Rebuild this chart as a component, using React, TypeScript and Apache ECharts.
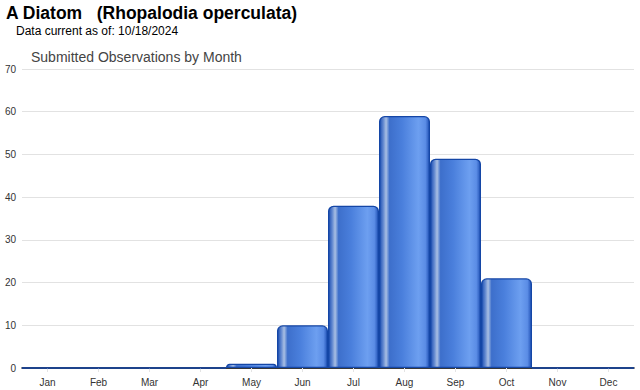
import React, { useEffect, useRef } from "react";
import * as echarts from "echarts";

const months = ["Jan", "Feb", "Mar", "Apr", "May", "Jun", "Jul", "Aug", "Sep", "Oct", "Nov", "Dec"];
const observations = [0, 0, 0, 0, 1, 10, 38, 59, 49, 21, 0, 0];

const titleText = "A Diatom   (Rhopalodia operculata)";
const subtitleText = "Data current as of: 10/18/2024";
const chartTitle = "Submitted Observations by Month";

export default function App() {
  const ref = useRef<HTMLDivElement>(null);
  useEffect(() => {
    if (!ref.current) return;
    const chart = echarts.init(ref.current, null, { renderer: "svg" });
    const barGradient = new echarts.graphic.LinearGradient(0, 0, 1, 0, [
      { offset: 0, color: "#1d4fb2" },
      { offset: 0.07, color: "#5f86cf" },
      { offset: 0.13, color: "#a9bfe3" },
      { offset: 0.2, color: "#3d6fcb" },
      { offset: 0.45, color: "#4a7fdc" },
      { offset: 0.78, color: "#6d9ff0" },
      { offset: 0.92, color: "#5b8de6" },
      { offset: 1, color: "#2354b8" },
    ]);
    chart.setOption({
      animation: false,
      backgroundColor: "#ffffff",
      textStyle: { fontFamily: "Liberation Sans, Arial, sans-serif" },
      graphic: [
        {
          type: "text",
          left: 6,
          top: 4,
          style: {
            text: titleText,
            font: "bold 17.5px 'Liberation Sans', Arial, sans-serif",
            fill: "#000",
          },
        },
        {
          type: "text",
          left: 16,
          top: 25,
          style: {
            text: subtitleText,
            font: "12px 'Liberation Sans', Arial, sans-serif",
            fill: "#000",
          },
        },
        {
          type: "text",
          left: 31,
          top: 50,
          style: {
            text: chartTitle,
            font: "14px 'Liberation Sans', Arial, sans-serif",
            fill: "#444",
          },
        },
      ],
      grid: { left: 22, right: 6, top: 69, bottom: 22, containLabel: false },
      xAxis: {
        type: "category",
        data: months,
        axisLine: { show: true, lineStyle: { color: "#000", width: 1.5 } },
        axisTick: { show: true, alignWithLabel: true, length: 4, lineStyle: { color: "#e4e4e4" } },
        axisLabel: { color: "#333", fontSize: 10, margin: 9 },
      },
      yAxis: {
        type: "value",
        min: 0,
        max: 70,
        interval: 10,
        axisLine: { show: false },
        axisTick: { show: false },
        axisLabel: { color: "#333", fontSize: 10, margin: 6 },
        splitLine: { lineStyle: { color: "#e2e2e2", width: 1 } },
      },
      series: [
        {
          type: "bar",
          data: observations,
          barCategoryGap: "0%",
          itemStyle: {
            color: barGradient,
            borderColor: "#1446a6",
            borderWidth: 1.3,
            borderRadius: [5, 5, 0, 0],
          },
        },
      ],
    });
    return () => chart.dispose();
  }, []);
  return <div ref={ref} style={{ width: 640, height: 390, position: "absolute", left: 0, top: 0 }} />;
}
